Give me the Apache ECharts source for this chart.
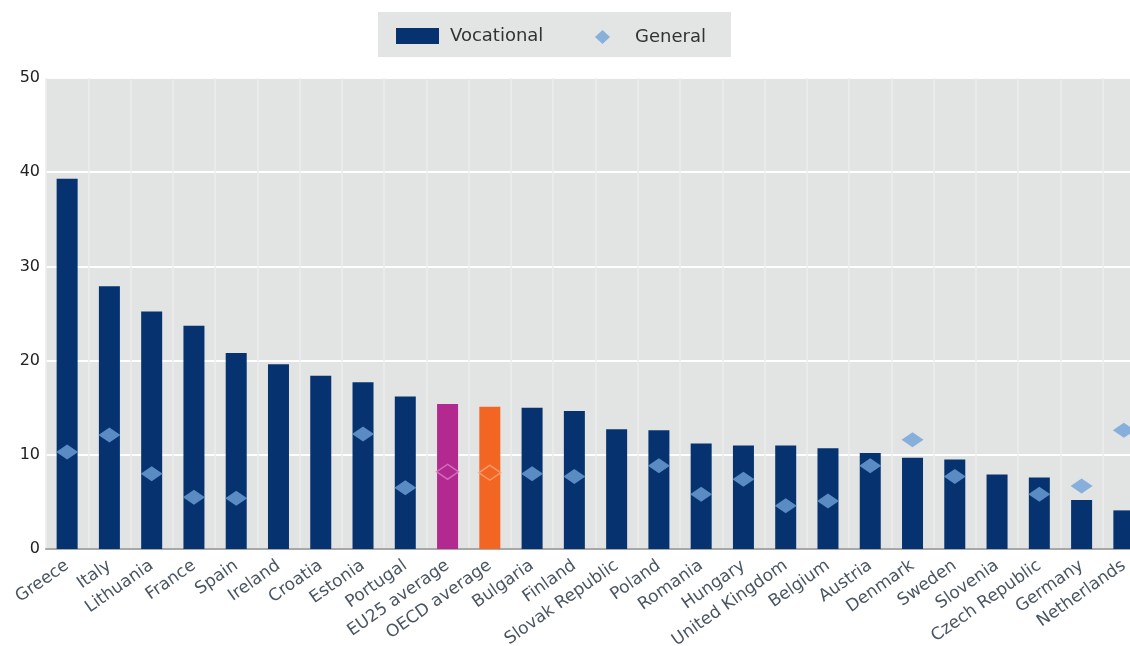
<!DOCTYPE html>
<html>
<head>
<meta charset="utf-8">
<script src="https://cdn.jsdelivr.net/npm/echarts@6/dist/echarts.min.js"></script>
<style>html,body{margin:0;padding:0;background:#fff;}#chart{width:1130px;height:646px;}</style>
</head>
<body>
<div id="chart"></div>
<script>
const categories = ["Greece","Italy","Lithuania","France","Spain","Ireland","Croatia","Estonia","Portugal","EU25 average","OECD average","Bulgaria","Finland","Slovak Republic","Poland","Romania","Hungary","United Kingdom","Belgium","Austria","Denmark","Sweden","Slovenia","Czech Republic","Germany","Netherlands"];
const vocational = [39.3,27.9,25.2,23.7,20.8,19.6,18.4,17.7,16.2,15.4,15.1,15.0,14.65,12.7,12.6,11.2,11.0,11.0,10.7,10.2,9.7,9.5,7.9,7.6,5.2,4.1];
const general = [10.3,12.1,8.0,5.5,5.4,null,null,12.2,6.5,8.2,8.1,8.0,7.7,null,8.85,5.8,7.4,4.6,5.1,8.85,11.6,7.7,null,5.8,6.7,12.6];
const yTicks = [0,10,20,30,40,50];

const barColor = '#063370';
const specialBar = {"EU25 average":'#b22a8f',"OECD average":'#f26522'};
const specialDiamond = {"EU25 average":'#dc7cc4',"OECD average":'#f9a878'};

const barData = vocational.map((v,i)=>{
  const c = specialBar[categories[i]];
  return c ? {value:v,itemStyle:{color:c}} : v;
});
const genData = general.map((v,i)=>{
  if (v === null) return '-';
  const c = specialDiamond[categories[i]];
  return c ? {value:v,itemStyle:{color:'rgba(0,0,0,0)',borderColor:c,borderWidth:1.5}} : v;
});

const FONT = '"DejaVu Sans", sans-serif';
const chart = echarts.init(document.getElementById('chart'));
chart.setOption({
  animation:false,
  textStyle:{fontFamily:FONT},
  graphic:[{type:'rect',shape:{x:378,y:12,width:353,height:45},style:{fill:'#e3e4e4'},z:-1}],
  legend:[
    {data:[{name:'Vocational',icon:'rect'}],left:396,top:27,itemWidth:43,itemHeight:16,padding:0,
     textStyle:{fontFamily:FONT,fontSize:18,color:'#333',padding:[0,0,0,6]}},
    {data:[{name:'General',icon:'diamond'}],left:595,top:28,itemWidth:15,itemHeight:14,padding:0,
     textStyle:{fontFamily:FONT,fontSize:18,color:'#333',padding:[0,0,0,20]}}
  ],
  grid:{left:46,top:78,height:471,width:1099,show:true,backgroundColor:'#e2e3e3',borderWidth:0,containLabel:false,outerBoundsMode:'none'},
  xAxis:{
    type:'category',data:categories,boundaryGap:true,
    axisLine:{show:true,lineStyle:{color:'#a8a8a8',width:2}},
    axisTick:{show:false},
    splitLine:{show:true,lineStyle:{color:'#ececec',width:1.5}},
    axisLabel:{rotate:35,fontFamily:FONT,fontSize:17,color:'#4a5562',margin:15,interval:0}
  },
  yAxis:{
    type:'value',min:yTicks[0],max:yTicks[yTicks.length-1],interval:10,
    axisLine:{show:false},axisTick:{show:false},
    splitLine:{show:true,lineStyle:{color:'#ffffff',width:2}},
    axisLabel:{fontFamily:FONT,fontSize:16,color:'#222',margin:6}
  },
  series:[
    {name:'Vocational',type:'bar',data:barData,barWidth:21,itemStyle:{color:barColor},z:2},
    {name:'General',type:'scatter',data:genData,symbol:'diamond',symbolSize:[22,15],itemStyle:{color:'#6fa3d8'},z:3}
  ]
});
</script>
</body>
</html>
